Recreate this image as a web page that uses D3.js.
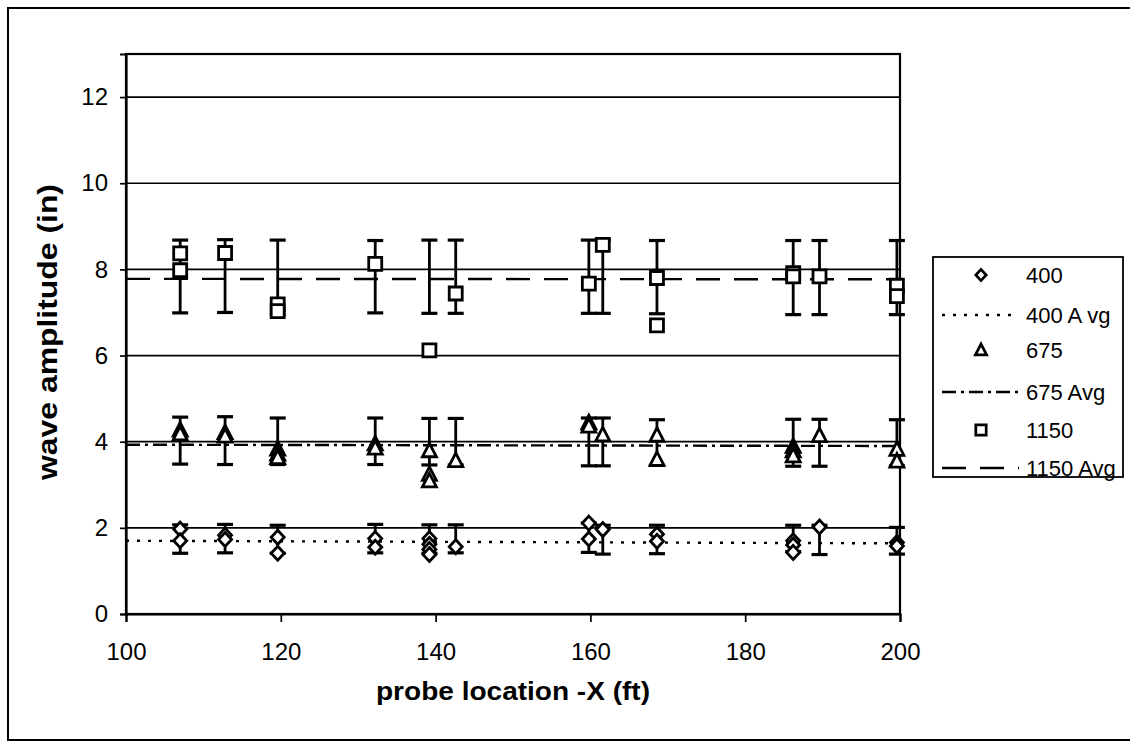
<!DOCTYPE html>
<html>
<head>
<meta charset="utf-8">
<script src="https://cdn.jsdelivr.net/npm/d3@7"></script>
<style>
  html, body { margin: 0; padding: 0; background: #fff; }
  svg { display: block; font-family: "Liberation Sans", Arial, sans-serif; }
</style>
</head>
<body>
<svg id="chart" width="1130" height="749"></svg>
<script>
// ---------------- DATA ----------------
const locations = [107, 112.8, 119.6, 132.2, 139.2, 142.6, 159.8, 161.6, 168.6, 186.2, 189.6, 199.6];

// 400 series points
const x400 = [107, 107, 112.8, 112.8, 119.6, 119.6, 132.2, 132.2, 139.2, 139.2, 139.2, 139.2, 142.6, 159.8, 159.8, 161.6, 168.6, 168.6, 186.2, 186.2, 186.2, 189.6, 199.6, 199.6];
const y400 = [1.97, 1.70, 1.83, 1.73, 1.78, 1.41, 1.75, 1.55, 1.75, 1.62, 1.50, 1.38, 1.56, 2.11, 1.74, 1.96, 1.85, 1.69, 1.70, 1.60, 1.43, 2.02, 1.66, 1.58];
const errLow400  = [1.41, 1.42, 1.41, 1.42, 1.41, 1.42, 1.43, 1.39, 1.40, 1.45, 1.38, 1.39];
const errHigh400 = [2.07, 2.08, 2.06, 2.08, 2.07, 2.07, 2.11, 2.06, 2.06, 2.06, 2.06, 2.01];
const avg400 = [1.70, 1.64];   // at x = 100 and x = 200

// 675 series points
const x675 = [107, 107, 112.8, 112.8, 119.6, 119.6, 119.6, 132.2, 132.2, 139.2, 139.2, 139.2, 142.6, 159.8, 159.8, 161.6, 168.6, 168.6, 186.2, 186.2, 186.2, 189.6, 199.6, 199.6];
const y675 = [4.27, 4.18, 4.21, 4.13, 3.83, 3.71, 3.63, 3.95, 3.85, 3.79, 3.24, 3.09, 3.56, 4.44, 4.36, 4.16, 4.15, 3.59, 3.89, 3.79, 3.67, 4.14, 3.82, 3.55];
const errLow675  = [3.48, 3.47, 3.47, 3.47, 3.46, 3.46, 3.44, 3.44, 3.45, 3.43, 3.43, 3.44];
const errHigh675 = [4.57, 4.58, 4.55, 4.55, 4.54, 4.54, 4.55, 4.55, 4.51, 4.52, 4.52, 4.51];
const avg675 = [3.93, 3.90];

// 1150 series points
const x1150 = [107, 107, 112.8, 119.6, 119.6, 132.2, 139.2, 142.6, 159.8, 161.6, 168.6, 168.6, 186.2, 186.2, 189.6, 199.6, 199.6];
const y1150 = [8.37, 7.98, 8.38, 7.19, 7.03, 8.13, 6.12, 7.44, 7.67, 8.57, 7.80, 6.70, 7.91, 7.84, 7.84, 7.62, 7.38];
const errLow1150  = [6.99, 7.00, 6.95, 6.99, 6.98, 6.98, 6.98, 6.98, 6.97, 6.95, 6.95, 6.95];
const errHigh1150 = [8.68, 8.69, 8.68, 8.67, 8.68, 8.68, 8.68, 8.68, 8.67, 8.67, 8.67, 8.67];
const avg1150 = [7.78, 7.77];

const avgX = [100, 200];
const xTicks = [100, 120, 140, 160, 180, 200];
const yTicks = [0, 2, 4, 6, 8, 10, 12];
const legendLabels = ["400", "400 A vg", "675", "675 Avg", "1150", "1150 Avg"];
const xTitle = "probe location -X (ft)";
const yTitle = "wave amplitude (in)";

// ---------------- DRAW ----------------
const svg = d3.select("#chart");
const plot = { left: 126, right: 900, top: 54, bottom: 614 };

const x = d3.scaleLinear().domain([100, 200]).range([plot.left, plot.right]);
const y = d3.scaleLinear().domain([0, 13]).range([plot.bottom, plot.top]);

// outer frame
svg.append("rect").attr("x", 8).attr("y", 8).attr("width", 1140).attr("height", 732)
  .attr("fill", "none").attr("stroke", "#000").attr("stroke-width", 2);

// gridlines
svg.append("g").selectAll("line").data(yTicks.filter(d => d > 0)).join("line")
  .attr("x1", plot.left).attr("x2", plot.right)
  .attr("y1", d => y(d)).attr("y2", d => y(d))
  .attr("stroke", "#000").attr("stroke-width", 1.7);

// plot border
svg.append("rect").attr("x", plot.left).attr("y", plot.top)
  .attr("width", plot.right - plot.left).attr("height", plot.bottom - plot.top)
  .attr("fill", "none").attr("stroke", "#000").attr("stroke-width", 2.2);

// axes
const xAxis = svg.append("g").attr("transform", `translate(0,${plot.bottom})`)
  .call(d3.axisBottom(x).tickValues(xTicks).tickSize(8).tickPadding(21).tickFormat(d3.format("d")));
const yAxis = svg.append("g").attr("transform", `translate(${plot.left},0)`)
  .call(d3.axisLeft(y).tickValues(yTicks).tickSize(6).tickPadding(12).tickFormat(d3.format("d")));
[xAxis, yAxis].forEach(a => {
  a.select(".domain").attr("stroke", "#000").attr("stroke-width", 2.2);
  a.selectAll(".tick line").attr("stroke", "#000").attr("stroke-width", 1.7);
  a.selectAll(".tick text").attr("fill", "#000").attr("font-size", 24)
    .attr("font-family", "'Liberation Sans', Arial, sans-serif");
});

// axis titles
svg.append("text").attr("x", (plot.left + plot.right) / 2).attr("y", 700)
  .attr("text-anchor", "middle").attr("font-size", 25).attr("font-weight", "bold")
  .attr("textLength", 274).attr("lengthAdjust", "spacingAndGlyphs").text(xTitle);
svg.append("text").attr("transform", `translate(57,332) rotate(-90)`)
  .attr("text-anchor", "middle").attr("font-size", 27).attr("font-weight", "bold")
  .attr("textLength", 296).attr("lengthAdjust", "spacingAndGlyphs").text(yTitle);

// avg lines
const avgLine = d3.line().x(d => x(d[0])).y(d => y(d[1]));
function drawAvg(vals, dash) {
  svg.append("path").datum(avgX.map((xx, i) => [xx, vals[i]]))
    .attr("d", avgLine).attr("fill", "none").attr("stroke", "#000")
    .attr("stroke-width", 2.4).attr("stroke-dasharray", dash);
}
const dash400 = "3,8", dash675 = "14,5,3,5", dash1150 = "24,14";
drawAvg(avg400, dash400);
drawAvg(avg675, dash675);
drawAvg(avg1150, dash1150);

// error bars
function drawErr(lo, hi) {
  const g = svg.append("g").attr("stroke", "#000").attr("stroke-width", 2.8);
  locations.forEach((lx, i) => {
    g.append("line").attr("x1", x(lx)).attr("x2", x(lx)).attr("y1", y(lo[i])).attr("y2", y(hi[i]));
    [lo[i], hi[i]].forEach(v => {
      g.append("line").attr("x1", x(lx) - 8).attr("x2", x(lx) + 8).attr("y1", y(v)).attr("y2", y(v))
        .attr("stroke-width", 3.2);
    });
  });
}
drawErr(errLow400, errHigh400);
drawErr(errLow675, errHigh675);
drawErr(errLow1150, errHigh1150);

// markers
const symDiamond = "M0,-7L6.5,0L0,7L-6.5,0Z";
const symTriangle = "M0,-7.5L7,6L-7,6Z";
const symSquare = "M-6.5,-6.5H6.5V6.5H-6.5Z";
function drawPts(xs, ys, sym) {
  svg.append("g").selectAll("path").data(xs.map((xx, i) => [xx, ys[i]])).join("path")
    .attr("d", sym).attr("transform", d => `translate(${x(d[0])},${y(d[1])})`)
    .attr("fill", "#fff").attr("stroke", "#000").attr("stroke-width", 2.8);
}
drawPts(x400, y400, symDiamond);
drawPts(x675, y675, symTriangle);
drawPts(x1150, y1150, symSquare);

// legend
const lg = svg.append("g");
lg.append("rect").attr("x", 933).attr("y", 257).attr("width", 190).attr("height", 220)
  .attr("fill", "#fff").attr("stroke", "#000").attr("stroke-width", 1.8);
const rowY = [275, 315, 350, 392, 430, 468];
const legendKinds = [["sym", symDiamond], ["line", dash400], ["sym", symTriangle], ["line", dash675], ["sym", symSquare], ["line", dash1150]];
legendKinds.forEach((k, i) => {
  if (k[0] === "sym") {
    lg.append("path").attr("d", k[1]).attr("transform", `translate(981,${rowY[i]}) scale(0.8)`)
      .attr("fill", "#fff").attr("stroke", "#000").attr("stroke-width", 3.4);
  } else {
    lg.append("line").attr("x1", 942).attr("x2", 1019).attr("y1", rowY[i]).attr("y2", rowY[i])
      .attr("stroke", "#000").attr("stroke-width", 2.4).attr("stroke-dasharray", k[1]);
  }
  lg.append("text").attr("x", 1026).attr("y", rowY[i]).attr("dy", "0.36em")
    .attr("font-size", 22).text(legendLabels[i]);
});
</script>
</body>
</html>
